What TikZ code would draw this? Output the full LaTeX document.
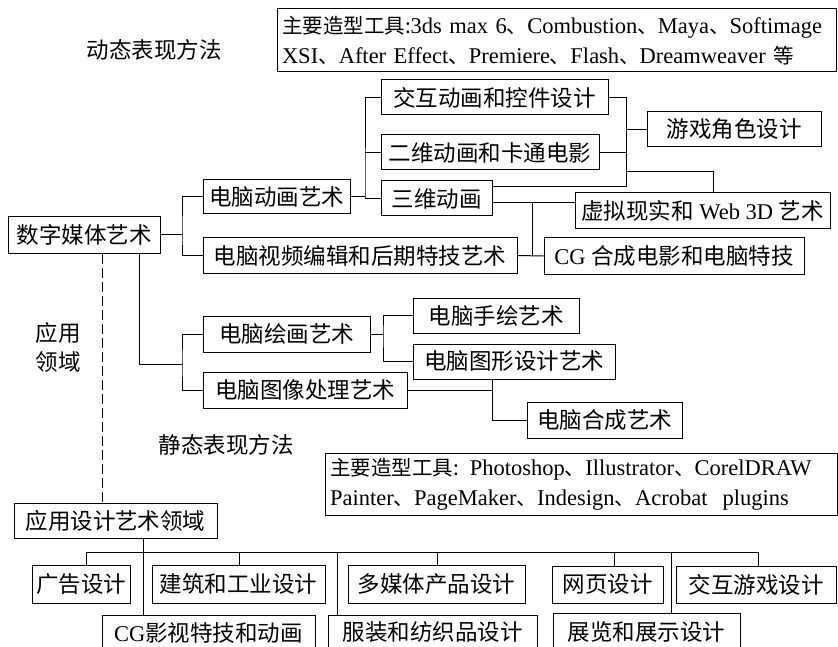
\documentclass[tikz,border=0pt]{standalone}
\usepackage{fontspec}
\setmainfont{Liberation Serif}
\newfontfamily\cjk{Noto Sans CJK SC}
\usetikzlibrary{calc}
\newcommand\mybox[6]{%
  \node[box, minimum width={(#4-#2)*1pt}, minimum height={(#5-#3)*1pt}]
    (#1) at ({(#2+#4)/2},{(#3+#5)/2}) {#6};}
\newcommand\ck[1]{{\cjk\fontsize{20.5}{28}\selectfont #1}}
\begin{document}
\begin{tikzpicture}[x=1pt,y=-1pt, line width=1pt,
  box/.style={draw, line width=1pt, inner sep=0pt, font=\fontsize{22.5}{24}\selectfont},
  lbl/.style={font=\cjk\fontsize{22.5}{29}\selectfont, inner sep=0pt, align=center},
  tools/.style={draw, line width=1pt, align=left, inner xsep=5pt, inner ysep=0pt, font=\fontsize{22.5}{28}\selectfont},
  dashln/.style={dash pattern=on 10pt off 4pt, line width=1pt}]
\useasboundingbox (0,0) rectangle (838,647);
% tool boxes
\node[tools, text width=549pt, minimum height=63pt] (tl1) at (556.5,40.5)
  {\raisebox{2pt}{\ck{主要造型工具:}3ds max 6\ck{、}Combustion\ck{、}Maya\ck{、}Softimage}\\
   XSI\ck{、}After Effect\ck{、}Premiere\ck{、}Flash\ck{、}Dreamweaver \ck{等}};
\node[tools, text width=502pt, minimum height=62pt, font=\fontsize{22.5}{30}\selectfont] (tl2) at (581,484)
  {\ck{主要造型工具: }Photoshop\ck{、}Illustrator\ck{、}CorelDRAW\\
   Painter\ck{、}PageMaker\ck{、}Indesign\ck{、}Acrobat\ \ plugins};
% labels
\node[lbl] (dyn) at (154,50) {动态表现方法};
\node[lbl] (sta) at (226,445) {静态表现方法};
\node[lbl] (ying) at (58,347) {应用\\领域};
% boxes
\mybox{dm}{8}{217}{160}{253}{\cjk 数字媒体艺术}
\mybox{dh}{203}{180}{350}{214}{\cjk 电脑动画艺术}
\mybox{sp}{203}{238}{517}{273}{\cjk 电脑视频编辑和后期特技艺术}
\mybox{jh}{381}{80}{608}{115}{\cjk 交互动画和控件设计}
\mybox{ew}{381}{135}{599}{170}{\cjk 二维动画和卡通电影}
\mybox{sw}{381}{181}{492}{216}{\cjk 三维动画}
\mybox{yx}{647}{112}{821}{147}{\cjk 游戏角色设计}
\mybox{vr}{575}{193}{830}{229}{{\cjk 虚拟现实和} Web 3D {\cjk 艺术}}
\mybox{cg}{544}{238}{804}{274}{CG {\cjk 合成电影和电脑特技}}
\mybox{hh}{203}{316}{370}{352}{\cjk 电脑绘画艺术}
\mybox{tx}{203}{372}{407}{408}{\cjk 电脑图像处理艺术}
\mybox{sh}{413}{298}{579}{333}{\cjk 电脑手绘艺术}
\mybox{tp}{413}{344}{615}{379}{\cjk 电脑图形设计艺术}
\mybox{hc}{527}{402}{682}{438}{\cjk 电脑合成艺术}
\mybox{yy}{14}{503}{217}{538}{\cjk 应用设计艺术领域}
\mybox{gg}{32}{565}{130}{603}{\cjk 广告设计}
\mybox{jz}{152}{565}{325}{603}{\cjk 建筑和工业设计}
\mybox{dmt}{348}{565}{525}{603}{\cjk 多媒体产品设计}
\mybox{wy}{552}{566}{663}{603}{\cjk 网页设计}
\mybox{jy}{676}{566}{836}{603}{\cjk 交互游戏设计}
\mybox{cgy}{102}{615}{315}{650}{CG{\cjk 影视特技和动画}}
\mybox{fz}{328}{615}{537}{650}{\cjk 服装和纺织品设计}
\mybox{zl}{553}{613}{740}{650}{\cjk 展览和展示设计}
% coordinates
\coordinate (b1) at (182,235);
\coordinate (b2) at (365,197);
\coordinate (b3) at (626,97.5);
\coordinate (b4) at (532,203);
\coordinate (b5) at (139,364);
\coordinate (b6) at (383,334);
\coordinate (b7) at (492,390);
\coordinate (bus) at (143,552);
% top tree
\draw (dm.east |- b1) -- (b1);
\draw (dh.west) -| (b1) |- (sp.west);
\draw (dh.east) -- (b2);
\draw (jh.west) -| (b2) |- (sw.west);
\draw (ew.west) -- (ew.west -| b2);
\draw (jh.east) -| (626,187) -- (sw.north east |- 0,187);
\draw (ew.east) -- (ew.east -| b3);
\draw (yx.west) -- (yx.west -| b3);
\draw (626,172) -| (vr.north -| 713,0);
\draw (sw.east |- b4) -- (vr.west |- b4);
\draw (b4) -- (b4 |- sp.east);
\draw (sp.east) -- (cg.west);
% lower tree
\draw (dm.south -| b5) -- (b5) -- (182,364);
\draw (hh.west) -| (182,364) |- (tx.west);
\draw (hh.east) -- (b6);
\draw (sh.west) -| (b6) |- (tp.west);
\draw (tx.east) -- (b7);
\draw (tp.south -| b7) |- (hc.west);
% application
\draw[dashln] (dm.south -| 102,0) -- (yy.north -| 102,0);
\draw (yy.south -| bus) -- (cgy.north -| bus);
\draw (86,552) -- (758,552);
\draw (gg.north -| 86,0) -- (86,552);
\draw (jz.north -| 239,0) -- (239,552);
\draw (dmt.north -| 437,0) -- (437,552);
\draw (wy.north -| 614,0) -- (614,552);
\draw (jy.north -| 758,0) -- (758,552);
\draw (fz.north -| 337,0) -- (337,552);
\draw (zl.north -| 671,0) -- (671,552);
\end{tikzpicture}
\end{document}
